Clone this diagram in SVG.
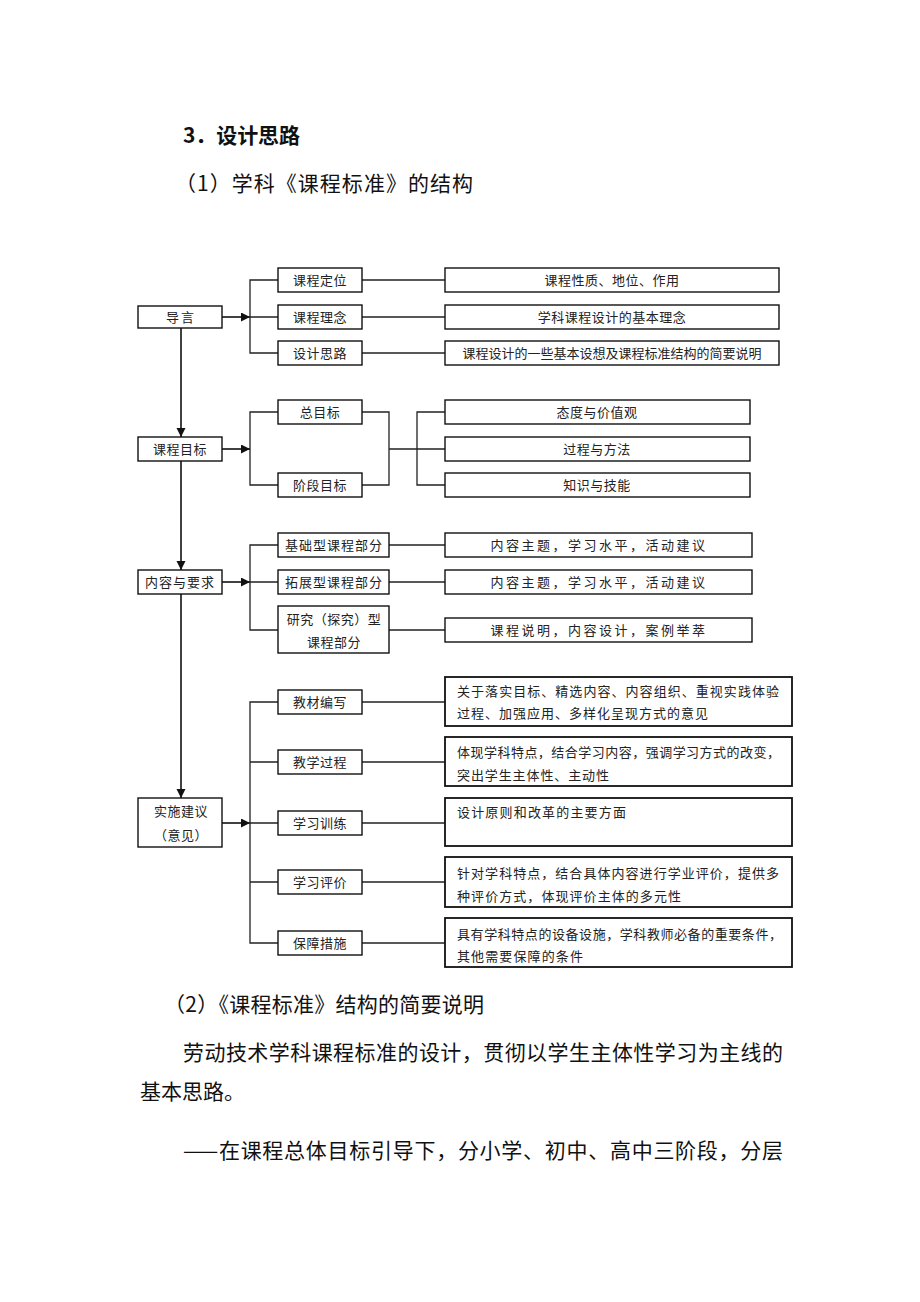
<svg xmlns="http://www.w3.org/2000/svg" width="920" height="1302" viewBox="0 0 920 1302">
<defs>
<style>
text{font-family:"Noto Sans CJK SC","Liberation Sans",sans-serif;fill:#222;}
.t{font-size:13px;}
.c{text-anchor:middle;}
.s1{letter-spacing:0.5px;}
.s2{letter-spacing:1px;}
.s3{letter-spacing:2.5px;}
.h{font-size:21px;font-weight:bold;fill:#111;}
.p{font-size:21px;fill:#111;}
.box{fill:#fff;stroke:#111;stroke-width:1.4;}
.bx{fill:#fff;stroke:#111;stroke-width:1.8;}
.ln{fill:none;stroke:#222;stroke-width:1.3;}
.ar{fill:none;stroke:#111;stroke-width:1.6;}
</style>
<marker id="ah" markerUnits="userSpaceOnUse" markerWidth="10" markerHeight="10" refX="9" refY="4.5" orient="auto">
<path d="M0,0 L9,4.5 L0,9 z" fill="#111"/>
</marker>
</defs>
<rect x="0" y="0" width="920" height="1302" fill="#fff"/>

<g id="headings">
<text class="h" x="183" y="143" textLength="117" lengthAdjust="spacing">3．设计思路</text>
<text class="p" x="175" y="191" textLength="298" lengthAdjust="spacing">（1）学科《课程标准》的结构</text>
</g>

<g id="connectors">
<line class="ar" x1="181" y1="328" x2="181" y2="437" marker-end="url(#ah)"/>
<line class="ar" x1="181" y1="461" x2="181" y2="570" marker-end="url(#ah)"/>
<line class="ar" x1="181" y1="594" x2="181" y2="798" marker-end="url(#ah)"/>
<line class="ar" x1="222" y1="317" x2="250" y2="317" marker-end="url(#ah)"/>
<line class="ar" x1="222" y1="449" x2="250" y2="449" marker-end="url(#ah)"/>
<line class="ar" x1="222" y1="582" x2="250" y2="582" marker-end="url(#ah)"/>
<line class="ar" x1="222" y1="823" x2="250" y2="823" marker-end="url(#ah)"/>
<path class="ln" d="M278,280 H250 V353 H278 M250,317 H278"/>
<path class="ln" d="M362,280 H445 M362,317 H445 M362,353 H445"/>
<path class="ln" d="M278,412 H250 V485 H278"/>
<path class="ln" d="M362,412 H389 V485 H362 M389,449 H417 M445,412 H417 V485 H445 M417,449 H445"/>
<path class="ln" d="M278,545 H250 V630 H278 M250,582 H278"/>
<path class="ln" d="M389,545 H445 M389,582 H445 M389,630 H445"/>
<path class="ln" d="M278,702 H250 V943 H278 M250,762 H278 M250,823 H278 M250,882 H278"/>
<path class="ln" d="M362,702 H445 M362,762 H445 M362,823 H445 M362,882 H445 M362,943 H445"/>
</g>

<g id="n-daoyan">
<rect class="box" x="138" y="306" width="84" height="22"/>
<text class="t c" x="181" y="322" style="letter-spacing:2px">导言</text>
</g>
<g id="n-kcdw">
<rect class="box" x="278" y="268" width="84" height="24"/>
<text class="t c s1" x="320" y="285">课程定位</text>
</g>
<g id="n-kcln">
<rect class="box" x="278" y="305" width="84" height="24"/>
<text class="t c s1" x="320" y="322">课程理念</text>
</g>
<g id="n-sjsl">
<rect class="box" x="278" y="341" width="84" height="24"/>
<text class="t c s1" x="320" y="358">设计思路</text>
</g>
<g id="n-r1">
<rect class="box" x="445" y="268" width="334" height="24"/>
<text class="t c s1" x="612" y="285">课程性质、地位、作用</text>
</g>
<g id="n-r2">
<rect class="box" x="445" y="305" width="334" height="24"/>
<text class="t c s1" x="612" y="322">学科课程设计的基本理念</text>
</g>
<g id="n-r3">
<rect class="box" x="445" y="341" width="334" height="24"/>
<text class="t c" x="612" y="358">课程设计的一些基本设想及课程标准结构的简要说明</text>
</g>

<g id="n-kcmb">
<rect class="box" x="138" y="437" width="84" height="24"/>
<text class="t c s1" x="180" y="454">课程目标</text>
</g>
<g id="n-zmb">
<rect class="box" x="278" y="400" width="84" height="24"/>
<text class="t c s1" x="320" y="417">总目标</text>
</g>
<g id="n-jdmb">
<rect class="box" x="278" y="473" width="84" height="24"/>
<text class="t c s1" x="320" y="490">阶段目标</text>
</g>
<g id="n-tdjz">
<rect class="box" x="445" y="400" width="305" height="24"/>
<text class="t c s1" x="597" y="417">态度与价值观</text>
</g>
<g id="n-gcff">
<rect class="box" x="445" y="437" width="305" height="24"/>
<text class="t c s1" x="597" y="454">过程与方法</text>
</g>
<g id="n-zsjn">
<rect class="box" x="445" y="473" width="305" height="24"/>
<text class="t c s1" x="597" y="490">知识与技能</text>
</g>

<g id="n-nryq">
<rect class="box" x="138" y="570" width="84" height="24"/>
<text class="t c s2" x="180" y="587">内容与要求</text>
</g>
<g id="n-jcx">
<rect class="box" x="278" y="533" width="111" height="24"/>
<text class="t c s2" x="334" y="550">基础型课程部分</text>
</g>
<g id="n-tzx">
<rect class="box" x="278" y="570" width="111" height="24"/>
<text class="t c s2" x="334" y="587">拓展型课程部分</text>
</g>
<g id="n-yjx">
<rect class="box" x="278" y="606" width="111" height="47"/>
<text class="t c s1" x="334" y="624">研究（探究）型</text>
<text class="t c s1" x="334" y="647">课程部分</text>
</g>
<g id="n-c1">
<rect class="box" x="445" y="533" width="307" height="24"/>
<text class="t c s3" x="599" y="550">内容主题，学习水平，活动建议</text>
</g>
<g id="n-c2">
<rect class="box" x="445" y="570" width="307" height="24"/>
<text class="t c s3" x="599" y="587">内容主题，学习水平，活动建议</text>
</g>
<g id="n-c3">
<rect class="box" x="445" y="618" width="307" height="24"/>
<text class="t c s3" x="599" y="635">课程说明，内容设计，案例举萃</text>
</g>

<g id="n-ssjy">
<rect class="box" x="138" y="798" width="84" height="49"/>
<text class="t c s1" x="181" y="816">实施建议</text>
<text class="t c s1" x="181" y="840">（意见）</text>
</g>
<g id="n-jcbx">
<rect class="box" x="278" y="690" width="84" height="24"/>
<text class="t c s1" x="320" y="707">教材编写</text>
</g>
<g id="n-jxgc">
<rect class="box" x="278" y="750" width="84" height="24"/>
<text class="t c s1" x="320" y="767">教学过程</text>
</g>
<g id="n-xxxl">
<rect class="box" x="278" y="811" width="84" height="24"/>
<text class="t c s1" x="320" y="828">学习训练</text>
</g>
<g id="n-xxpj">
<rect class="box" x="278" y="870" width="84" height="24"/>
<text class="t c s1" x="320" y="887">学习评价</text>
</g>
<g id="n-bzcs">
<rect class="box" x="278" y="931" width="84" height="24"/>
<text class="t c s1" x="320" y="948">保障措施</text>
</g>
<g id="n-d1">
<rect class="bx" x="445" y="677" width="347" height="49"/>
<text class="t" x="457" y="696" textLength="322" lengthAdjust="spacing">关于落实目标、精选内容、内容组织、重视实践体验</text>
<text class="t" x="457" y="718" textLength="251" lengthAdjust="spacing">过程、加强应用、多样化呈现方式的意见</text>
</g>
<g id="n-d2">
<rect class="bx" x="445" y="737" width="347" height="49"/>
<text class="t" x="457" y="757" textLength="323" lengthAdjust="spacing">体现学科特点，结合学习内容，强调学习方式的改变，</text>
<text class="t" x="457" y="780" textLength="152" lengthAdjust="spacing">突出学生主体性、主动性</text>
</g>
<g id="n-d3">
<rect class="bx" x="445" y="798" width="347" height="48"/>
<text class="t" x="457" y="817" textLength="169" lengthAdjust="spacing">设计原则和改革的主要方面</text>
</g>
<g id="n-d4">
<rect class="bx" x="445" y="857" width="347" height="50"/>
<text class="t" x="457" y="878" textLength="322" lengthAdjust="spacing">针对学科特点，结合具体内容进行学业评价，提供多</text>
<text class="t" x="457" y="901" textLength="224" lengthAdjust="spacing">种评价方式，体现评价主体的多元性</text>
</g>
<g id="n-d5">
<rect class="bx" x="445" y="918" width="347" height="49"/>
<text class="t" x="457" y="939" textLength="325" lengthAdjust="spacing">具有学科特点的设备设施，学科教师必备的重要条件，</text>
<text class="t" x="457" y="961" textLength="126" lengthAdjust="spacing">其他需要保障的条件</text>
</g>

<g id="body">
<text class="p" x="164" y="1012" textLength="320" lengthAdjust="spacing">（2）《课程标准》结构的简要说明</text>
<text class="p" x="183" y="1060" textLength="600" lengthAdjust="spacing">劳动技术学科课程标准的设计，贯彻以学生主体性学习为主线的</text>
<text class="p" x="140" y="1099" textLength="105" lengthAdjust="spacing">基本思路。</text>
<text class="p" x="183" y="1158" textLength="600" lengthAdjust="spacing">——在课程总体目标引导下，分小学、初中、高中三阶段，分层</text>
</g>
</svg>
